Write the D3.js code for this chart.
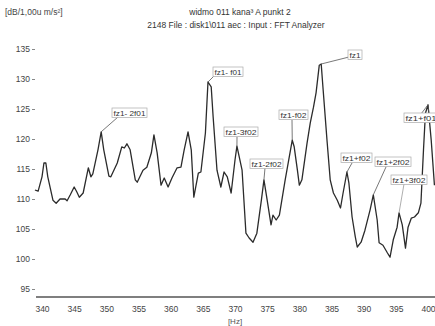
<!DOCTYPE html>
<html>
<head>
<meta charset="utf-8">
<script src="https://cdn.jsdelivr.net/npm/d3@7"></script>
<style>
  html, body { margin: 0; padding: 0; background: #fff; }
  svg { display: block; font-family: "Liberation Sans", Arial, sans-serif; }
</style>
</head>
<body>
<div id="chart"></div>
<script>
// Spectrum values
const freq = [338.9, 339.4, 340.0, 340.3, 340.6, 340.9, 341.7, 342.2, 342.8, 343.6, 343.9, 344.4, 345.0, 345.4, 345.8, 346.4,
  347.2, 347.6, 347.9, 348.7, 349.2, 349.6, 350.4, 350.7, 351.7, 352.4, 352.8, 353.2, 353.7, 354.5, 354.8, 355.7, 356.3,
  357.0, 357.4, 357.9, 358.5, 359.0, 359.6, 360.2, 361.0, 361.6, 362.1, 362.7, 363.2, 363.6, 364.3, 364.7, 365.4, 365.8,
  366.3, 366.6, 367.2, 367.8, 368.3, 368.8, 369.4, 370.0, 370.3, 371.1, 371.7, 372.2, 372.8, 373.4, 374.1, 374.5, 375.0,
  375.6, 375.9, 376.4, 376.9, 377.8, 378.9, 379.2, 379.7, 380.0, 380.4, 381.2, 381.7, 382.2, 382.6, 383.1, 383.4, 383.7,
  384.3, 384.8, 385.3, 385.9, 386.4, 386.8, 387.4, 387.7, 388.2, 388.7, 389.0, 389.6, 390.2, 391.0, 391.5, 392.1, 392.4,
  393.0, 393.7, 394.1, 394.6, 395.2, 395.5, 396.0, 396.5, 396.9, 397.4, 397.9, 398.5, 398.9, 399.3, 399.6, 400.0, 400.5, 401.0];
const level = [111.5, 111.3, 113.7, 116.0, 116.0, 113.7, 109.8, 109.3, 110.0, 110.0, 109.7, 110.7, 112.0, 111.2, 110.3, 111.0,
  115.2, 113.7, 114.2, 118.2, 121.2, 118.2, 113.8, 113.7, 116.0, 118.7, 118.5, 119.2, 118.2, 113.2, 112.8, 114.8, 115.3,
  117.7, 120.7, 117.7, 112.3, 113.5, 112.0, 113.5, 115.2, 115.3, 118.2, 121.2, 118.2, 110.3, 114.3, 114.5, 121.0, 129.5,
  128.7, 123.7, 114.8, 112.0, 114.5, 113.7, 111.0, 116.5, 118.8, 114.8, 104.3, 103.5, 102.8, 104.3, 109.8, 113.2, 109.8,
  105.7, 107.3, 106.5, 107.3, 113.2, 119.8, 118.7, 114.8, 112.3, 113.2, 119.3, 122.7, 125.3, 127.7, 132.3, 132.5, 128.2,
  119.8, 113.2, 111.0, 109.8, 108.5, 111.0, 114.5, 112.7, 107.0, 103.7, 102.0, 102.8, 104.8, 108.2, 110.7, 106.5, 102.7,
  102.3, 101.0, 100.3, 103.2, 105.3, 107.7, 105.7, 101.8, 105.3, 106.8, 107.0, 107.7, 109.3, 118.2, 124.3, 125.7, 119.8, 112.3];

const xTicks = [340, 345, 350, 355, 360, 365, 370, 375, 380, 385, 390, 395, 400];
const yTicks = [95, 100, 105, 110, 115, 120, 125, 130, 135];

// Peak annotations: label and the frequency of the marked peak
const peakLabels = ['fz1- 2f01', 'fz1- f01', 'fz1', 'fz1-3f02', 'fz1-2f02', 'fz1-f02', 'fz1+f02', 'fz1+2f02', 'fz1+3f02', 'fz1+f01'];
const peakFreq = [349.2, 365.8, 383.4, 370.3, 374.5, 378.9, 387.4, 391.5, 395.5, 400.0];

const titleLines = ['widmo 011 kana³ A punkt 2', '2148 File : disk1\\011 aec : Input : FFT Analyzer'];
const unitLabel = '[dB/1,00u m/s²]';
const xUnit = '[Hz]';

const W = 435, H = 326;

const svg = d3.select('#chart')
  .append('svg')
  .attr('width', W)
  .attr('height', H);

const x = d3.scaleLinear().domain([340, 400]).range([42, 428]);
const y = d3.scaleLinear().domain([95, 135]).range([289, 49]);

const ink = '#2b2b2b';

// header
svg.append('text')
  .attr('x', 5).attr('y', 15)
  .attr('font-size', 8.5).attr('fill', '#444')
  .text(unitLabel);

svg.selectAll('.title')
  .data(titleLines)
  .join('text')
  .attr('class', 'title')
  .attr('x', (d, i) => i === 0 ? 240 : 236)
  .attr('y', (d, i) => 15 + i * 13)
  .attr('text-anchor', 'middle')
  .attr('font-size', 8.5)
  .attr('fill', '#333')
  .text(d => d);

// y axis (labels with short dashes, no spine)
const yAxis = svg.append('g')
  .attr('transform', 'translate(35,0)')
  .call(d3.axisLeft(y).tickValues(yTicks).tickSize(3).tickPadding(2));
yAxis.select('.domain').remove();
yAxis.selectAll('line').attr('stroke', '#888');
yAxis.selectAll('text')
  .attr('font-size', 8.5)
  .attr('fill', '#444')
  .attr('font-family', '"Liberation Sans", Arial, sans-serif');

// x axis: baseline and labels
svg.append('line')
  .attr('x1', 36).attr('x2', W)
  .attr('y1', 297).attr('y2', 297)
  .attr('stroke', '#555')
  .attr('stroke-width', 1.4);

const xAxis = svg.append('g')
  .attr('transform', 'translate(0,297)')
  .call(d3.axisBottom(x).tickValues(xTicks).tickSize(0).tickPadding(9));
xAxis.select('.domain').remove();
xAxis.selectAll('text')
  .attr('font-size', 8.5)
  .attr('fill', '#444')
  .attr('font-family', '"Liberation Sans", Arial, sans-serif');

svg.append('text')
  .attr('x', x(370)).attr('y', 324)
  .attr('text-anchor', 'middle')
  .attr('font-size', 8)
  .attr('fill', '#555')
  .text(xUnit);

// spectrum line
const points = freq.map((f, i) => [f, level[i]]);
const line = d3.line()
  .x(d => x(d[0]))
  .y(d => y(d[1]));

svg.append('path')
  .datum(points)
  .attr('d', line)
  .attr('fill', 'none')
  .attr('stroke', ink)
  .attr('stroke-width', 1.3)
  .attr('stroke-linejoin', 'round');

// annotation boxes: left, top, width, and where the leader leaves the box
const boxLayout = [
  { bx: 112, by: 108, bw: 35, lx: 118, ly: 117 },
  { bx: 213, by: 67, bw: 30, lx: 214, ly: 76 },
  { bx: 348, by: 50, bw: 14, lx: 349, ly: 57 },
  { bx: 224, by: 127, bw: 34, lx: 237, ly: 137 },
  { bx: 250, by: 159, bw: 33, lx: 265, ly: 168 },
  { bx: 279, by: 110, bw: 29, lx: 292, ly: 120 },
  { bx: 341, by: 153, bw: 31, lx: 352, ly: 163 },
  { bx: 375, by: 157, bw: 36, lx: 386, ly: 167 },
  { bx: 391, by: 175, bw: 36, lx: 404, ly: 184 },
  { bx: 404, by: 113, bw: 34, lx: 421, ly: 114 }
];

function levelAt(f) {
  let best = 0;
  freq.forEach((v, i) => { if (Math.abs(v - f) < Math.abs(freq[best] - f)) best = i; });
  return level[best];
}

const ann = svg.append('g');
peakLabels.forEach((label, i) => {
  const b = boxLayout[i];
  const px = x(peakFreq[i]);
  const py = y(levelAt(peakFreq[i]));

  ann.append('line')
    .attr('x1', b.lx).attr('y1', b.ly)
    .attr('x2', px).attr('y2', py)
    .attr('stroke', i === 8 ? '#999' : '#555')
    .attr('stroke-width', 0.8);
  if (i === 9) {
    ann.append('line')
      .attr('x1', 429).attr('y1', 114)
      .attr('x2', px).attr('y2', py)
      .attr('stroke', '#555')
      .attr('stroke-width', 0.8);
  }

  ann.append('rect')
    .attr('x', b.bx).attr('y', b.by)
    .attr('width', b.bw).attr('height', 9.5)
    .attr('fill', '#fff')
    .attr('stroke', '#aaa')
    .attr('stroke-width', 0.7);

  ann.append('text')
    .attr('x', b.bx + 1.5).attr('y', b.by + 7.6)
    .attr('font-size', 8)
    .attr('fill', '#333')
    .attr('textLength', b.bw - 3)
    .attr('lengthAdjust', 'spacingAndGlyphs')
    .text(label);
});
</script>
</body>
</html>
